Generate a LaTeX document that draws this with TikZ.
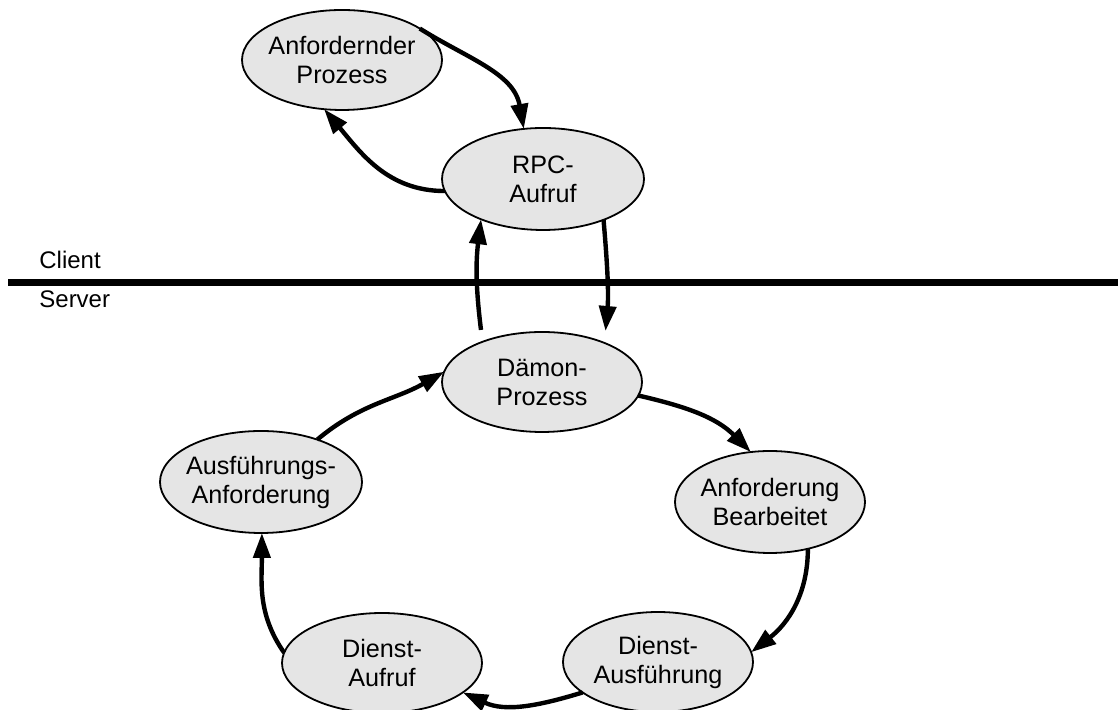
\documentclass[tikz,border=0pt]{standalone}
\usepackage{fontspec}
\setmainfont{Liberation Sans}
\usetikzlibrary{shapes.geometric,arrows.meta}
\definecolor{procfill}{RGB}{229,229,229}
\begin{document}
\begin{tikzpicture}[x=0.5pt,y=0.5pt,
  proc/.style={ellipse, draw=black, line width=0.9pt, fill=procfill,
    inner sep=0pt, outer sep=0pt, minimum width=100pt, minimum height=50pt},
  ptext/.style={align=center, font=\fontsize{12.6}{14.5}\selectfont, inner sep=0pt},
  flow/.style={line width=2.2pt, -{Triangle[length=12.5pt,width=8.5pt]}},
  side/.style={font=\fontsize{12}{13}\selectfont, anchor=base west, inner sep=0pt}]
\useasboundingbox (0,0) rectangle (1118,710);

% client / server divider
\coordinate (divL) at (8,427.5);
\coordinate (divR) at (1118,427.5);
\draw[line width=3.5pt] (divL) -- (divR);
\node[side] (client) at (39,441) {Client};
\node[side] (server) at (39,402) {Server};

% processes
\node[proc, label={[ptext]center:{Anfordernder\\Prozess}}] (req) at (342,650) {};
\node[proc, minimum width=101pt, minimum height=51pt,
      label={[ptext]center:{RPC-\\Aufruf}}] (rpc) at (543,531) {};
\node[proc, label={[ptext]center:{Dämon-\\Prozess}}] (daemon) at (542,328) {};
\node[proc, minimum width=101pt, minimum height=51pt,
      label={[ptext]center:{Ausführungs-\\Anforderung}}] (exreq) at (261,228) {};
\node[proc, minimum width=95pt, minimum height=51pt,
      label={[ptext]center:{Anforderung\\Bearbeitet}}] (done) at (770,208) {};
\node[proc, minimum width=95pt,
      label={[ptext]center:{Dienst-\\Ausführung}}] (svcexec) at (658,48) {};
\node[proc, label={[ptext]center:{Dienst-\\Aufruf}}] (svccall) at (382,47) {};

% flows
\draw[flow] (req.22) to[out=-32, in=100] (rpc.111);
\draw[flow] (rpc.187) to[out=180, in=-50] (req.250);
\draw[flow, shorten <=6pt] (daemon.146) to[out=97, in=-97] (rpc.213);
\draw[flow, shorten >=6pt] (rpc.-34) to[out=-85, in=85] (daemon.32);
\draw[flow] (daemon.-8) to[out=-13, in=135] (done.111);
\draw[flow] (done.-51) to[out=-90, in=38] (svcexec.6);
\draw[flow] (svcexec.202) to[out=-163, in=-25] (svccall.-20);
\draw[flow] (svccall.174) to[out=125, in=-90] (exreq.271);
\draw[flow] (exreq.37) to[out=40, in=-150] (daemon.174);
\end{tikzpicture}
\end{document}
